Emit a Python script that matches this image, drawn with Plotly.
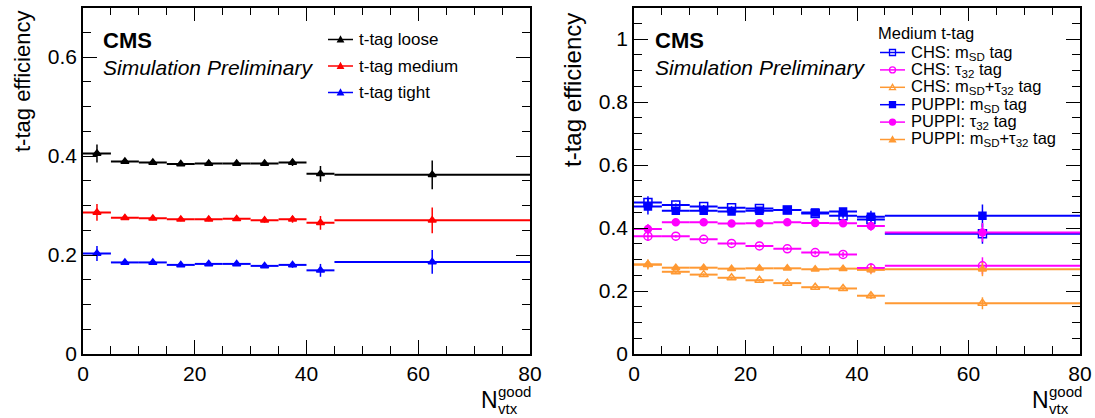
import plotly.graph_objects as go

# Canvas size in pixels
W, H = 1095, 418

# Number of good primary vertices: bin edges
nvtx_edges = [0, 5, 10, 15, 20, 25, 30, 35, 40, 45, 80]

# Left panel: t-tag efficiency for the three working points
eff_loose = [0.405, 0.389, 0.387, 0.384, 0.385, 0.385, 0.385, 0.387, 0.364, 0.362]
err_loose = [0.018, 0.004, 0.004, 0.004, 0.004, 0.004, 0.005, 0.007, 0.016, 0.029]
eff_medium = [0.286, 0.275, 0.274, 0.272, 0.272, 0.273, 0.270, 0.272, 0.265, 0.270]
err_medium = [0.017, 0.004, 0.004, 0.004, 0.004, 0.004, 0.005, 0.007, 0.014, 0.026]
eff_tight = [0.203, 0.185, 0.185, 0.180, 0.182, 0.182, 0.178, 0.180, 0.169, 0.186]
err_tight = [0.015, 0.003, 0.003, 0.003, 0.003, 0.004, 0.004, 0.006, 0.013, 0.024]

# Right panel: medium working point, CHS vs PUPPI jets
chs_msd = [0.481, 0.473, 0.468, 0.464, 0.462, 0.457, 0.446, 0.439, 0.427, 0.382]
chs_msd_err = [0.020, 0.005, 0.005, 0.005, 0.005, 0.006, 0.007, 0.009, 0.017, 0.032]
chs_tau = [0.374, 0.374, 0.364, 0.351, 0.343, 0.334, 0.322, 0.316, 0.273, 0.280]
chs_tau_err = [0.015, 0.004, 0.004, 0.004, 0.005, 0.005, 0.006, 0.008, 0.015, 0.027]
chs_both = [0.284, 0.261, 0.252, 0.242, 0.234, 0.225, 0.212, 0.208, 0.185, 0.161]
chs_both_err = [0.012, 0.004, 0.004, 0.004, 0.004, 0.004, 0.005, 0.006, 0.010, 0.019]
puppi_msd = [0.468, 0.455, 0.455, 0.452, 0.455, 0.457, 0.449, 0.452, 0.436, 0.439]
puppi_msd_err = [0.025, 0.005, 0.005, 0.005, 0.005, 0.006, 0.007, 0.009, 0.019, 0.036]
puppi_tau = [0.397, 0.418, 0.418, 0.414, 0.415, 0.418, 0.416, 0.415, 0.406, 0.386]
puppi_tau_err = [0.016, 0.004, 0.004, 0.004, 0.005, 0.005, 0.006, 0.008, 0.015, 0.030]
puppi_both = [0.284, 0.274, 0.274, 0.271, 0.272, 0.272, 0.269, 0.271, 0.267, 0.269]
puppi_both_err = [0.016, 0.004, 0.004, 0.004, 0.004, 0.004, 0.005, 0.006, 0.014, 0.022]

BLACK, RED, BLUE = "#000000", "#ff0000", "#0000ff"
MAGENTA, ORANGE = "#ff00ff", "#ff9933"
FONT = "Liberation Sans, Arial, sans-serif"

centers = [(a + b) / 2 for a, b in zip(nvtx_edges[:-1], nvtx_edges[1:])]
half_w = [(b - a) / 2 for a, b in zip(nvtx_edges[:-1], nvtx_edges[1:])]


def px(x):
    return x / W


def py(y):
    return 1 - y / H


def series(y, err, color, symbol, size, xa, ya):
    return go.Scatter(
        x=centers, y=y, xaxis=xa, yaxis=ya, mode="markers",
        marker=dict(symbol=symbol, size=size, color=color,
                    line=dict(color=color, width=1.5)),
        error_x=dict(type="data", array=half_w, color=color, thickness=2, width=0),
        error_y=dict(type="data", array=err, color=color, thickness=1.5, width=0),
        showlegend=False, hoverinfo="x+y",
    )


fig = go.Figure()

fig.add_trace(series(eff_loose, err_loose, BLACK, "triangle-up", 7, "x", "y"))
fig.add_trace(series(eff_medium, err_medium, RED, "triangle-up", 7, "x", "y"))
fig.add_trace(series(eff_tight, err_tight, BLUE, "triangle-up", 7, "x", "y"))

fig.add_trace(series(chs_msd, chs_msd_err, BLUE, "square-open", 8, "x2", "y2"))
fig.add_trace(series(chs_tau, chs_tau_err, MAGENTA, "circle-open", 8, "x2", "y2"))
fig.add_trace(series(chs_both, chs_both_err, ORANGE, "triangle-up-open", 8, "x2", "y2"))
fig.add_trace(series(puppi_msd, puppi_msd_err, BLUE, "square", 7, "x2", "y2"))
fig.add_trace(series(puppi_tau, puppi_tau_err, MAGENTA, "circle", 7, "x2", "y2"))
fig.add_trace(series(puppi_both, puppi_both_err, ORANGE, "triangle-up", 7, "x2", "y2"))


def x_axis(x0, x1, anchor):
    return dict(
        domain=[px(x0), px(x1)], anchor=anchor, range=[0, 80], tick0=0, dtick=20,
        ticks="inside", ticklen=14, tickwidth=1, tickcolor="black",
        minor=dict(ticks="inside", dtick=5, ticklen=8, tickwidth=1, tickcolor="black"),
        showline=True, linecolor="black", linewidth=1.5, mirror="ticks",
        showgrid=False, zeroline=False, automargin=False,
        tickfont=dict(family=FONT, size=21, color="black"),
    )


def y_axis(top, anchor):
    return dict(
        domain=[py(354), py(7.5)], anchor=anchor, range=[0, top], tick0=0, dtick=0.2,
        ticks="inside", ticklen=14, tickwidth=1, tickcolor="black",
        minor=dict(ticks="inside", dtick=0.05, ticklen=8, tickwidth=1, tickcolor="black"),
        showline=True, linecolor="black", linewidth=1.5, mirror="ticks",
        showgrid=False, zeroline=False, automargin=False,
        tickfont=dict(family=FONT, size=21, color="black"),
    )


annotations = []
shapes = []


def text(x, y, s, size, **kw):
    annotations.append(dict(
        x=px(x), y=py(y), xref="paper", yref="paper", text=s, showarrow=False,
        font=dict(family=FONT, size=size, color="black"),
        xanchor=kw.pop("xanchor", "left"), yanchor=kw.pop("yanchor", "middle"), **kw))


def marker_shape(x, y, symbol, color, r=3.5):
    filled = not symbol.endswith("open")
    base = dict(xref="paper", yref="paper", xsizemode="pixel", ysizemode="pixel",
                xanchor=px(x), yanchor=py(y), line=dict(color=color, width=1.3),
                fillcolor=color if filled else "rgba(0,0,0,0)", layer="above")
    if symbol.startswith("square"):
        shapes.append(dict(type="rect", x0=-r, x1=r, y0=-r, y1=r, **base))
    elif symbol.startswith("circle"):
        shapes.append(dict(type="circle", x0=-r, x1=r, y0=-r, y1=r, **base))
    else:
        shapes.append(dict(type="path", path=f"M{-r},{-r*0.8} L{r},{-r*0.8} L0,{r} Z", **base))


def legend_entry(x0, x1, y, color, symbol, label, size, r):
    shapes.append(dict(type="line", xref="paper", yref="paper",
                       x0=px(x0), x1=px(x1), y0=py(y), y1=py(y),
                       line=dict(color=color, width=1.5)))
    marker_shape((x0 + x1) / 2, y, symbol, color, r)
    text(x1 + 4, y, label, size)


# Experiment labels
for left in (105, 657):
    text(left - 4, 40, "<b>CMS</b>", 22)
    text(left - 4, 67, "<i>Simulation Preliminary</i>", 21)

# Left legend
legend_entry(328, 353, 39.5, BLACK, "triangle-up", "t-tag loose", 17, 2.8)
legend_entry(328, 353, 66, RED, "triangle-up", "t-tag medium", 17, 2.8)
legend_entry(328, 353, 92.5, BLUE, "triangle-up", "t-tag tight", 17, 2.8)

# Right legend
text(876, 33, "Medium t-tag", 16.5)
right_entries = [
    (BLUE, "square-open", "CHS: m<sub>SD</sub> tag"),
    (MAGENTA, "circle-open", "CHS: τ<sub>32</sub> tag"),
    (ORANGE, "triangle-up-open", "CHS: m<sub>SD</sub>+τ<sub>32</sub> tag"),
    (BLUE, "square", "PUPPI: m<sub>SD</sub> tag"),
    (MAGENTA, "circle", "PUPPI: τ<sub>32</sub> tag"),
    (ORANGE, "triangle-up", "PUPPI: m<sub>SD</sub>+τ<sub>32</sub> tag"),
]
for i, (c, sym, lab) in enumerate(right_entries):
    legend_entry(880, 905, 52.5 + i * 17.4, c, sym, lab, 16.5, 3.0)

# Axis titles
for xc, yc, size in ((22, 82, 22), (572, 90, 24)):
    annotations.append(dict(
        x=px(xc), y=py(yc), xref="paper", yref="paper", text="t-tag efficiency",
        textangle=-90, showarrow=False, xanchor="center", yanchor="middle",
        font=dict(family=FONT, size=size, color="black")))

for nx in (489, 1040):
    text(nx, 400, "N", 23, xanchor="center")
    text(nx + 7, 391, "good", 15)
    text(nx + 7, 408, "vtx", 15)

fig.update_layout(
    width=W, height=H,
    margin=dict(l=0, r=0, t=0, b=0, autoexpand=False),
    paper_bgcolor="white", plot_bgcolor="white",
    font=dict(family=FONT, color="black"),
    xaxis=x_axis(83, 530, "y"), yaxis=y_axis(0.7, "x"),
    xaxis2=x_axis(634, 1080, "y2"), yaxis2=y_axis(1.1, "x2"),
    annotations=annotations, shapes=shapes,
    showlegend=False,
)

fig.write_html("out.html")
